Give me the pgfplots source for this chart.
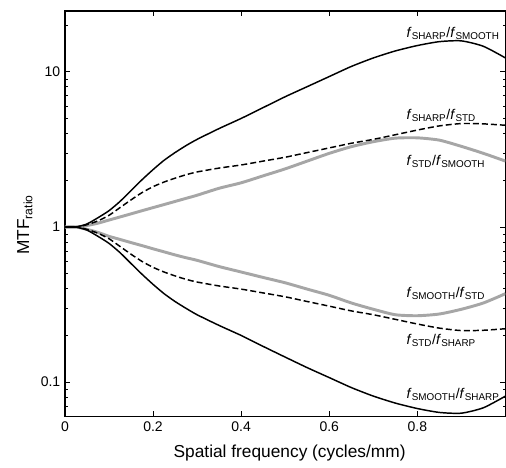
\documentclass[border=0pt]{standalone}
\usepackage{fontspec}
\setmainfont{Liberation Sans}
\usepackage{pgfplots}
\usepackage{pgfplotstable}
\pgfplotsset{compat=1.18}
\definecolor{cGray}{HTML}{A6A6A6}
\newcommand{\ratio}[2]{\textit{f}\textsubscript{#1}/\textit{f}\textsubscript{#2}}

% columns: x, sharp/smooth, smooth/sharp, sharp/std, std/sharp, std/smooth, smooth/std
\pgfplotstableread{
x     a      ai      b      bi     c      ci
0     1      1       1      1      1      1
0.025 1      1       1      1      1      1
0.05  1.047  0.955   1.035  0.966  1.023  0.966
0.075 1.148  0.871   1.096  0.912  1.059  0.923
0.1   1.274  0.785   1.189  0.841  1.109  0.871
0.125 1.462  0.684   1.334  0.750  1.161  0.832
0.15  1.718  0.582   1.496  0.668  1.216  0.794
0.175 2.018  0.496   1.667  0.600  1.274  0.759
0.2   2.344  0.427   1.820  0.550  1.334  0.724
0.225 2.692  0.372   1.950  0.513  1.396  0.692
0.25  3.020  0.331   2.065  0.484  1.462  0.661
0.275 3.350  0.299   2.173  0.460  1.531  0.634
0.3   3.673  0.272   2.265  0.442  1.603  0.610
0.35  4.315  0.232   2.399  0.417  1.778  0.556
0.4   5.012  0.200   2.512  0.398  1.928  0.513
0.45  5.888  0.170   2.661  0.376  2.138  0.473
0.5   6.918  0.145   2.818  0.355  2.371  0.437
0.55  8.035  0.124   3.020  0.331  2.661  0.398
0.6   9.333  0.107   3.236  0.309  2.985  0.363
0.65  10.84  0.0923  3.467  0.288  3.296  0.324
0.7   12.30  0.0813  3.673  0.272  3.548  0.295
0.75  13.65  0.0733  3.936  0.254  3.741  0.272
0.8   14.79  0.0676  4.217  0.237  3.758  0.268
0.85  15.67  0.0638  4.487  0.223  3.631  0.275
0.9   15.85  0.0631  4.645  0.215  3.311  0.295
0.95  14.62  0.0684  4.624  0.216  2.985  0.324
1.0   12.30  0.0813  4.529  0.221  2.661  0.372
}\mtf

\begin{document}
\begin{tikzpicture}
\begin{axis}[
  scale only axis, width=330.75pt, height=304.5pt,
  ymode=log, xmin=0, xmax=1, ymin=0.06, ymax=24.7,
  xtick={0,0.2,0.4,0.6,0.8},
  ytick={0.1,1,10}, yticklabels={0.1,1,10},
  minor ytick={0.07,0.08,0.09,0.2,0.3,0.4,0.5,0.6,0.7,0.8,0.9,2,3,4,5,6,7,8,9,20},
  tick align=inside, major tick length=4pt, minor tick length=2.2pt,
  axis line style={line width=0.9pt},
  every tick/.style={black, line width=0.7pt},
  /pgf/number format/assume math mode=true,
  tick label style={font=\fontsize{10.5}{12}\selectfont},
  label style={font=\fontsize{13}{15}\selectfont},
  xlabel={Spatial frequency (cycles/mm)},
  ylabel={MTF\textsubscript{ratio}},
  xlabel style={at={(axis description cs:0.51,0)}, anchor=center, yshift=-27pt},
  ylabel style={at={(axis description cs:-0.091,0.473)}, anchor=center},
  every axis plot/.append style={smooth, tension=0.4},
]
\addplot[cGray, line width=2.2pt] table[x=x, y=c] {\mtf};
\addplot[cGray, line width=2.2pt] table[x=x, y=ci] {\mtf};
\addplot[black, line width=1.1pt, dash pattern=on 4.5pt off 2.3pt] table[x=x, y=b] {\mtf};
\addplot[black, line width=1.1pt, dash pattern=on 4.5pt off 2.3pt] table[x=x, y=bi] {\mtf};
\addplot[black, line width=1.1pt] table[x=x, y=a] {\mtf};
\addplot[black, line width=1.1pt] table[x=x, y=ai] {\mtf};
\begin{scope}[every node/.style={anchor=west, inner sep=0pt, font=\fontsize{10.6}{12}\selectfont}]
\node at (axis cs:0.775,17.7) {\ratio{SHARP}{SMOOTH}};
\node at (axis cs:0.775,5.25) {\ratio{SHARP}{STD}};
\node at (axis cs:0.775,2.66) {\ratio{STD}{SMOOTH}};
\node at (axis cs:0.775,0.371) {\ratio{SMOOTH}{STD}};
\node at (axis cs:0.775,0.185) {\ratio{STD}{SHARP}};
\node at (axis cs:0.775,0.083) {\ratio{SMOOTH}{SHARP}};
\end{scope}
\coordinate (sw) at (rel axis cs:0,0);
\coordinate (ne) at (rel axis cs:1,1);
\end{axis}
\pgfresetboundingbox
\path[use as bounding box] ([xshift=-48.75pt,yshift=-38.25pt]sw) rectangle ([xshift=0.4pt,yshift=8.25pt]ne);
\end{tikzpicture}
\end{document}
